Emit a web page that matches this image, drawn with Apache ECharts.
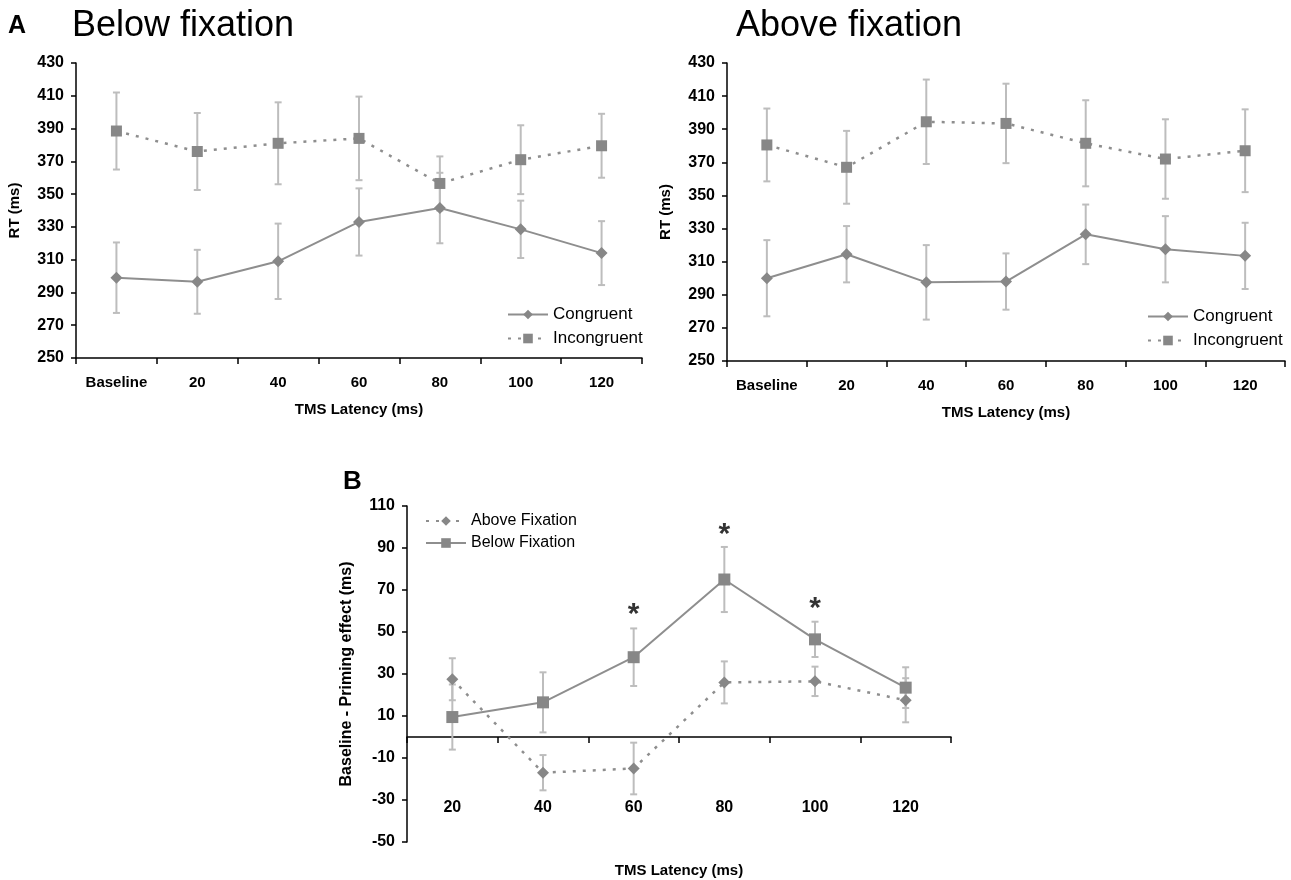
<!DOCTYPE html>
<html><head><meta charset="utf-8">
<script src="https://cdn.jsdelivr.net/npm/echarts@6/dist/echarts.min.js"></script>
<style>html,body{margin:0;padding:0;background:#fff}#c{width:1291px;height:880px}</style>
</head><body><div id="c"></div>
<script>
// ---- data ----
const latA = ['Baseline', '20', '40', '60', '80', '100', '120'];
const latB = ['20', '40', '60', '80', '100', '120'];

const belowCong      = [299, 296.5, 309, 333, 341.5, 328.5, 314];
const belowCongErr   = [21.5, 19.5, 23, 20.5, 21.5, 17.5, 19.5];
const belowIncong    = [388.5, 376, 381, 384, 356.5, 371, 379.5];
const belowIncongErr = [23.5, 23.5, 25, 25.5, 16.5, 21, 19.5];

const aboveCong      = [300, 314.5, 297.5, 298, 326.5, 317.5, 313.5];
const aboveCongErr   = [23, 17, 22.5, 17, 18, 20, 20];
const aboveIncong    = [380.5, 367, 394.5, 393.5, 381.5, 372, 377];
const aboveIncongErr = [22, 22, 25.5, 24, 26, 24, 25];

const primeAbove     = [27.5, -17, -15, 26, 26.5, 17.5];
const primeAboveErr  = [10, 8.4, 12.3, 10, 7, 10.5];
const primeBelow     = [9.5, 16.5, 38, 75, 46.5, 23.5];
const primeBelowErr  = [15.5, 14.3, 13.7, 15.5, 8.4, 9.7];
const starY          = [null, null, 60.5, 98.5, 63.5, null];

// ---- styling ----
const FF = '"Liberation Sans", Arial, sans-serif';
const LINE = '#8e8e8e';
const MARK = '#878787';
const ERR = '#bdbdbd';

function errData(m, e) { return m.map((v, i) => [i, v - e[i], v + e[i]]); }
function errBar(params, api) {
  const i = api.value(0);
  const t = api.coord([i, api.value(2)]);
  const b = api.coord([i, api.value(1)]);
  const w = 3.5;
  const st = { stroke: ERR, lineWidth: 2 };
  return { type: 'group', children: [
    { type: 'line', shape: { x1: t[0], y1: t[1], x2: b[0], y2: b[1] }, style: st },
    { type: 'line', shape: { x1: t[0] - w, y1: t[1], x2: t[0] + w, y2: t[1] }, style: st },
    { type: 'line', shape: { x1: b[0] - w, y1: b[1], x2: b[0] + w, y2: b[1] }, style: st }
  ] };
}
function errSeries(gi, m, e) {
  return { type: 'custom', xAxisIndex: gi, yAxisIndex: gi, renderItem: errBar,
    encode: { x: 0, y: [1, 2] }, data: errData(m, e), z: 1, silent: true };
}
function lineSeries(gi, name, data, solid, symbol, size) {
  return { type: 'line', name, xAxisIndex: gi, yAxisIndex: gi, data,
    symbol, symbolSize: size, z: 3,
    itemStyle: { color: MARK },
    lineStyle: solid ? { color: LINE, width: 2 } : { color: LINE, width: 2.5, type: [3, 7] } };
}
function xAxisCfg(gi, cats, name, nameGap, labelMargin, fs) {
  return { type: 'category', gridIndex: gi, data: cats, boundaryGap: true,
    name, nameLocation: 'middle', nameGap,
    nameTextStyle: { fontWeight: 'bold', fontSize: 15, color: '#000', fontFamily: FF },
    axisLine: { show: true, lineStyle: { color: '#000', width: 1.5 } },
    axisTick: { show: true, length: 6, lineStyle: { color: '#000', width: 1.5 } },
    axisLabel: { color: '#000', fontWeight: 'bold', fontSize: fs, margin: labelMargin, fontFamily: FF, interval: 0 },
    splitLine: { show: false } };
}
function yAxisCfg(gi, min, max, name, nameGap, nfs) {
  return { type: 'value', gridIndex: gi, min, max, interval: 20,
    name, nameLocation: 'middle', nameGap,
    nameTextStyle: { fontWeight: 'bold', fontSize: nfs, color: '#000', fontFamily: FF },
    axisLine: { show: true, lineStyle: { color: '#000', width: 1.5 } },
    axisTick: { show: true, length: 5, lineStyle: { color: '#000', width: 1.5 } },
    axisLabel: { color: '#000', fontWeight: 'bold', fontSize: 16, margin: 12, fontFamily: FF },
    splitLine: { show: false } };
}
function legendCfg(names, left, top, fs, gap) {
  return { data: names, orient: 'vertical', left, top, itemWidth: 40, itemHeight: 12,
    itemGap: gap, selectedMode: false,
    textStyle: { color: '#000', fontSize: fs, fontFamily: FF } };
}

// panel B: zero-line axis (line + ticks) and a label-only axis near the bottom
const xZero = xAxisCfg(2, latB, '', 0, 8, 16);
xZero.name = null;
xZero.axisLabel.show = false;
xZero.axisLine.onZero = true;
const xLabelsB = xAxisCfg(2, latB, 'TMS Latency (ms)', 71, 8, 16);
xLabelsB.position = 'bottom';
xLabelsB.offset = -50;
xLabelsB.axisLine = { show: false, onZero: false };
xLabelsB.axisTick = { show: false };

const chart = echarts.init(document.getElementById('c'), null, { renderer: 'canvas' });
chart.setOption({
  animation: false,
  backgroundColor: '#fff',
  graphic: [
    { type: 'text', style: { text: 'A', x: 8, y: 26, fill: '#000', font: 'bold 25px ' + FF, verticalAlign: 'middle' } },
    { type: 'text', style: { text: 'Below fixation', x: 72, y: 26, fill: '#000', font: '36px ' + FF, verticalAlign: 'middle' } },
    { type: 'text', style: { text: 'Above fixation', x: 736, y: 26, fill: '#000', font: '36px ' + FF, verticalAlign: 'middle' } },
    { type: 'text', style: { text: 'B', x: 343, y: 482, fill: '#000', font: 'bold 26px ' + FF, verticalAlign: 'middle' } }
  ],
  grid: [
    { left: 76, top: 63, width: 566, height: 295, containLabel: false, outerBoundsMode: 'none' },
    { left: 727, top: 63, width: 558, height: 298, containLabel: false, outerBoundsMode: 'none' },
    { left: 407, top: 506, width: 544, height: 336, containLabel: false, outerBoundsMode: 'none' }
  ],
  xAxis: [
    xAxisCfg(0, latA, 'TMS Latency (ms)', 44, 17, 15),
    xAxisCfg(1, latA, 'TMS Latency (ms)', 44, 17, 15),
    xZero,
    xLabelsB
  ],
  yAxis: [
    yAxisCfg(0, 250, 430, 'RT (ms)', 54, 15),
    yAxisCfg(1, 250, 430, 'RT (ms)', 54, 15),
    yAxisCfg(2, -50, 110, 'Baseline - Priming effect (ms)', 52, 16)
  ],
  legend: [
    legendCfg(['Congruent', 'Incongruent'], 502, 301, 17, 7),
    legendCfg(['Congruent', 'Incongruent'], 1142, 303, 17, 7),
    legendCfg(['Above Fixation', 'Below Fixation'], 420, 508, 16, 6)
  ],
  series: [
    errSeries(0, belowCong, belowCongErr),
    errSeries(0, belowIncong, belowIncongErr),
    lineSeries(0, 'Congruent', belowCong, true, 'diamond', 12),
    lineSeries(0, 'Incongruent', belowIncong, false, 'rect', 11),

    errSeries(1, aboveCong, aboveCongErr),
    errSeries(1, aboveIncong, aboveIncongErr),
    lineSeries(1, 'Congruent', aboveCong, true, 'diamond', 12),
    lineSeries(1, 'Incongruent', aboveIncong, false, 'rect', 11),

    errSeries(2, primeAbove, primeAboveErr),
    errSeries(2, primeBelow, primeBelowErr),
    lineSeries(2, 'Above Fixation', primeAbove, false, 'diamond', 12),
    lineSeries(2, 'Below Fixation', primeBelow, true, 'rect', 12),
    { type: 'scatter', name: 'sig', xAxisIndex: 2, yAxisIndex: 2, data: starY,
      symbolSize: 0, silent: true, z: 4,
      label: { show: true, position: 'inside', formatter: '*', offset: [0, 5],
        color: '#000', fontSize: 30, fontWeight: 'bold', fontFamily: FF } }
  ]
});
</script></body></html>
